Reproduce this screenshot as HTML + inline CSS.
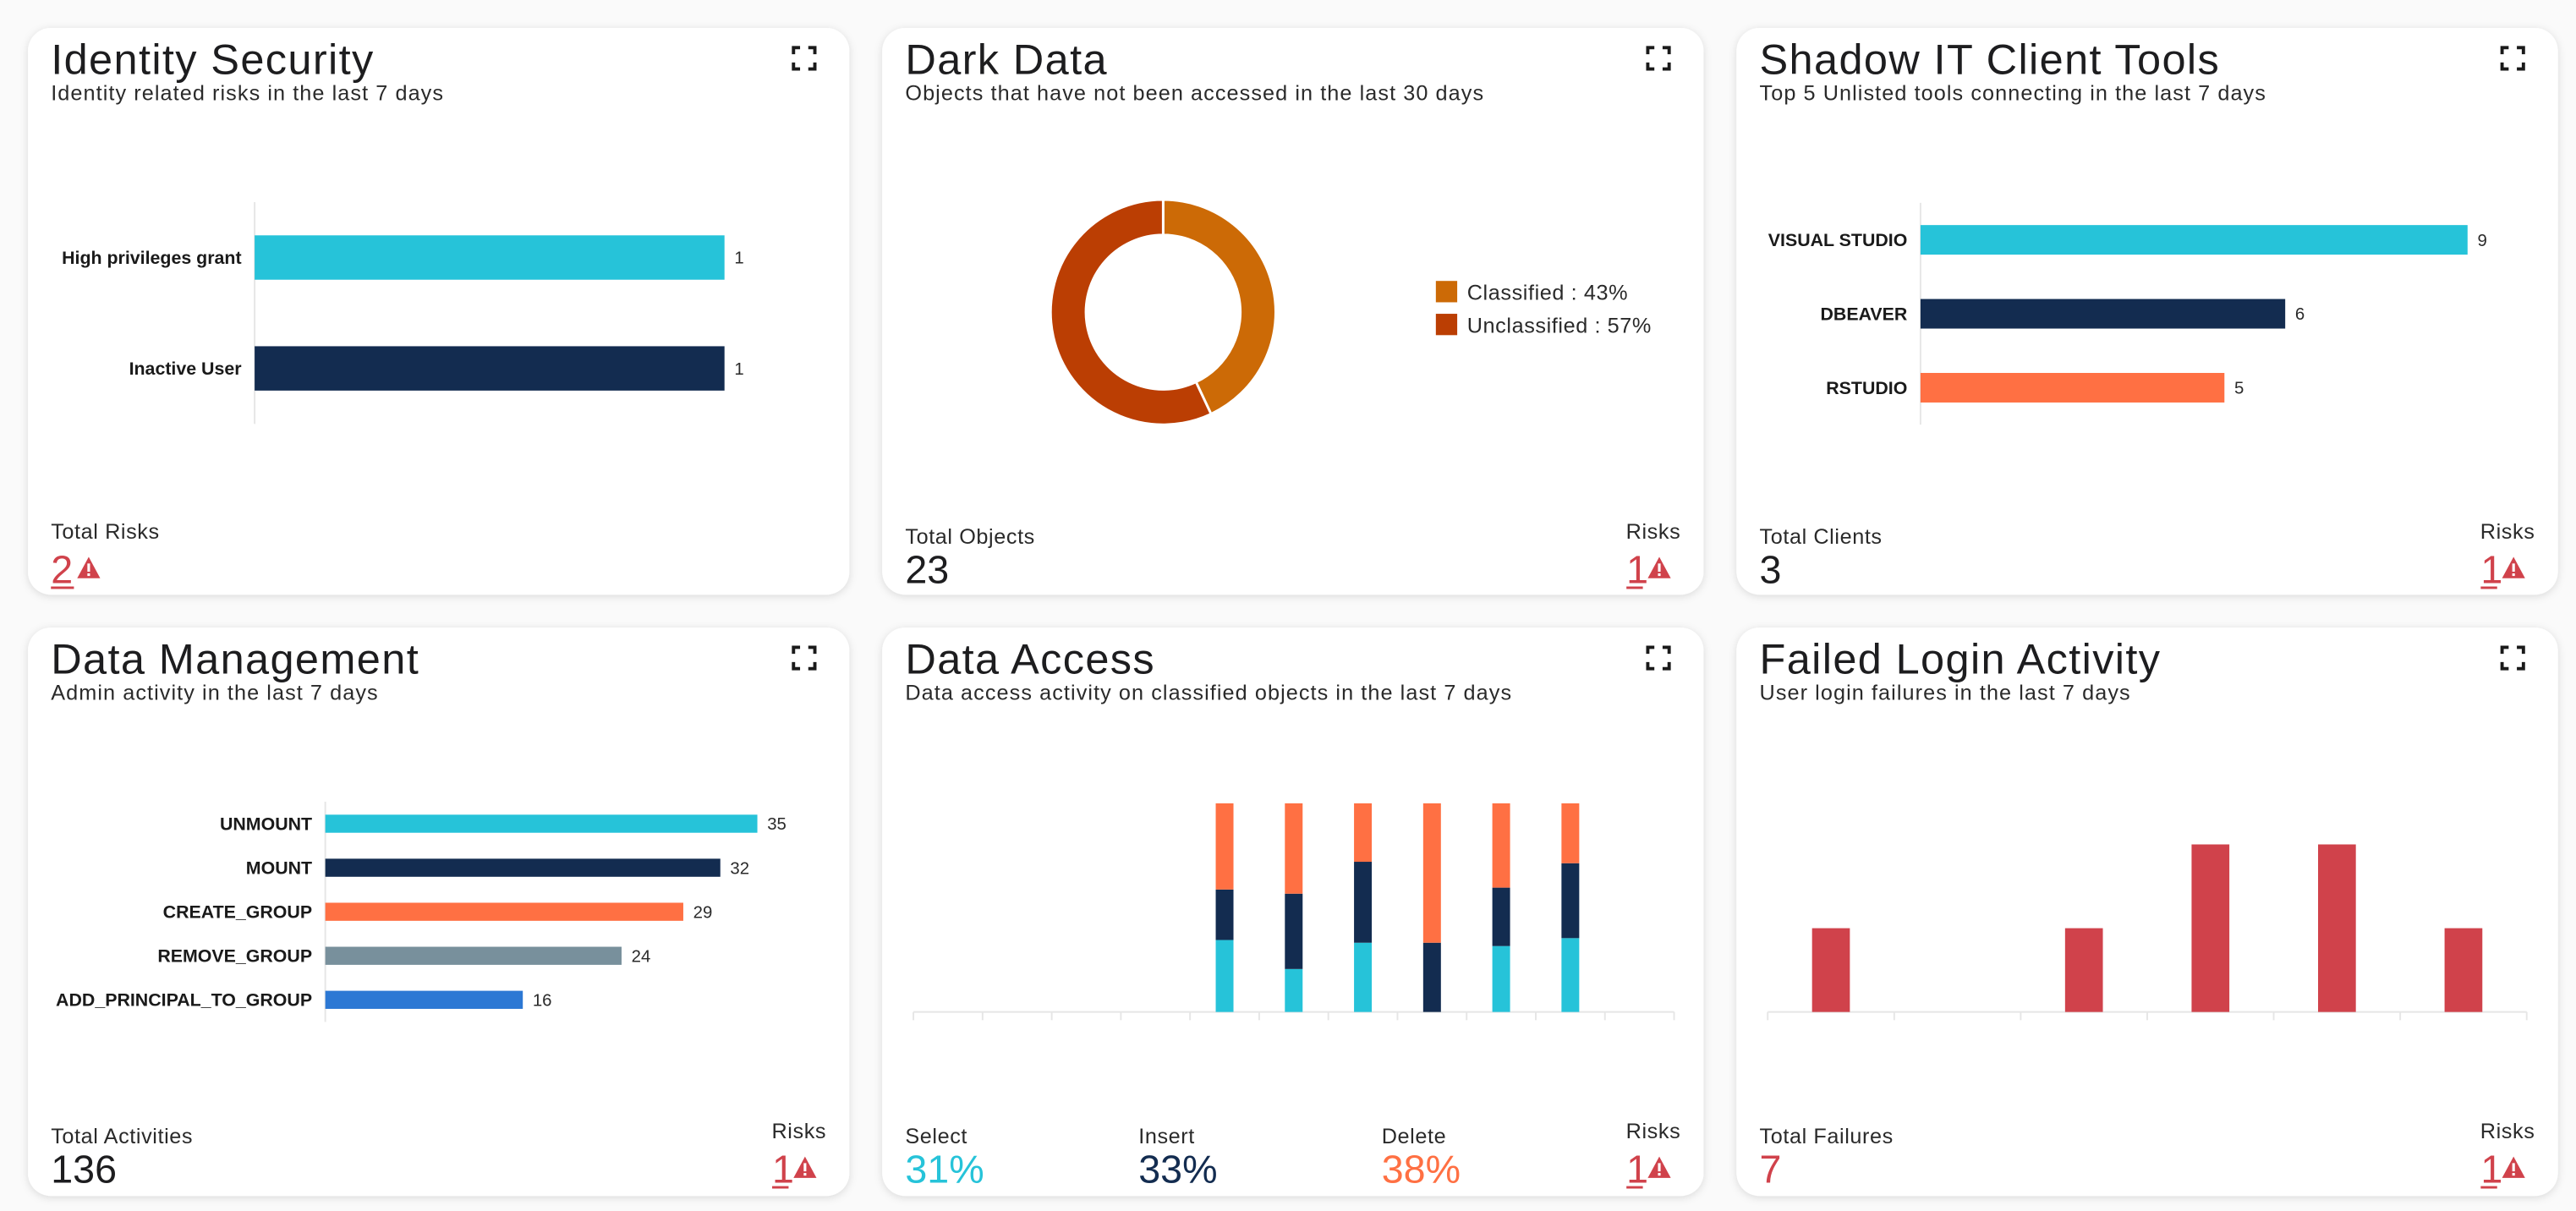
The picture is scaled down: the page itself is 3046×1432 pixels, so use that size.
<!DOCTYPE html>
<html><head><meta charset="utf-8">
<style>
html,body{margin:0;padding:0;background:#fafafa;width:3046px;height:1432px;overflow:hidden}
svg{display:block}
text{font-family:"Liberation Sans",sans-serif}
.t{font-size:26px;fill:#1d1d1f;letter-spacing:0.7px}
.s{font-size:13px;fill:#2a2a2a;letter-spacing:0.55px}
.f{font-size:13px;fill:#2a2a2a;letter-spacing:0.3px}
.n{font-size:24px;fill:#1d1d1f}
.lab{font-size:11px;font-weight:bold;fill:#1a1a1a}
.val{font-size:10.5px;fill:#2a2a2a}
</style></head>
<body>
<svg id="page" width="3046" height="1432" viewBox="0 0 1568 737.14" xmlns="http://www.w3.org/2000/svg">
<defs>
<filter id="sh" x="-5%" y="-5%" width="110%" height="110%"><feDropShadow dx="0" dy="1" stdDeviation="2.5" flood-color="#000" flood-opacity="0.13"/></filter>
<g id="exp"><path d="M0 4V0H4M9 0H13V4M13 9V13H9M4 13H0V9" fill="none" stroke="#1a1a1a" stroke-width="2"/></g>
<g id="warn"><path d="M7 0L14 13H0Z" fill="#d0424b"/><rect x="6.2" y="4" width="1.6" height="5" fill="#fff"/><rect x="6.2" y="10" width="1.6" height="1.6" fill="#fff"/></g>
</defs>
<rect width="1568" height="737.14" fill="#fafafa"/>

<rect x="17" y="17" width="500" height="345" rx="14" fill="#fff" filter="url(#sh)"/>
<rect x="537" y="17" width="500" height="345" rx="14" fill="#fff" filter="url(#sh)"/>
<rect x="1057" y="17" width="500" height="345" rx="14" fill="#fff" filter="url(#sh)"/>
<rect x="17" y="382" width="500" height="346" rx="14" fill="#fff" filter="url(#sh)"/>
<rect x="537" y="382" width="500" height="346" rx="14" fill="#fff" filter="url(#sh)"/>
<rect x="1057" y="382" width="500" height="346" rx="14" fill="#fff" filter="url(#sh)"/>

<text class="t" x="31" y="45">Identity Security</text>
<text class="s" x="31" y="61">Identity related risks in the last 7 days</text>
<text class="t" x="551" y="45">Dark Data</text>
<text class="s" x="551" y="61">Objects that have not been accessed in the last 30 days</text>
<text class="t" x="1071" y="45">Shadow IT Client Tools</text>
<text class="s" x="1071" y="61">Top 5 Unlisted tools connecting in the last 7 days</text>
<text class="t" x="31" y="410">Data Management</text>
<text class="s" x="31" y="426">Admin activity in the last 7 days</text>
<text class="t" x="551" y="410">Data Access</text>
<text class="s" x="551" y="426">Data access activity on classified objects in the last 7 days</text>
<text class="t" x="1071" y="410">Failed Login Activity</text>
<text class="s" x="1071" y="426">User login failures in the last 7 days</text>

<use href="#exp" x="483" y="29"/>
<use href="#exp" x="1003" y="29"/>
<use href="#exp" x="1523" y="29"/>
<use href="#exp" x="483" y="394"/>
<use href="#exp" x="1003" y="394"/>
<use href="#exp" x="1523" y="394"/>

<text class="f" x="31" y="328">Total Risks</text>
<text class="n" x="31" y="355" style="fill:#d0424b">2</text>
<rect x="31" y="357" width="14" height="1.5" fill="#d0424b"/>
<use href="#warn" x="47" y="339"/>

<text class="f" x="551" y="331">Total Objects</text>
<text class="n" x="551" y="355">23</text>
<text class="f" x="1023" y="328" text-anchor="end">Risks</text>
<text class="n" x="990" y="355" style="fill:#d0424b">1</text>
<rect x="990" y="357" width="10" height="1.5" fill="#d0424b"/>
<use href="#warn" x="1003" y="339"/>

<text class="f" x="1071" y="331">Total Clients</text>
<text class="n" x="1071" y="355">3</text>
<text class="f" x="1543" y="328" text-anchor="end">Risks</text>
<text class="n" x="1510" y="355" style="fill:#d0424b">1</text>
<rect x="1510" y="357" width="10" height="1.5" fill="#d0424b"/>
<use href="#warn" x="1523" y="339"/>

<text class="f" x="31" y="696">Total Activities</text>
<text class="n" x="31" y="720">136</text>
<text class="f" x="503" y="693" text-anchor="end">Risks</text>
<text class="n" x="470" y="720" style="fill:#d0424b">1</text>
<rect x="470" y="722" width="10" height="1.5" fill="#d0424b"/>
<use href="#warn" x="483" y="704"/>

<text class="f" x="551" y="696">Select</text>
<text class="n" x="551" y="720" style="fill:#26c3d9">31%</text>
<text class="f" x="693" y="696">Insert</text>
<text class="n" x="693" y="720" style="fill:#132c50">33%</text>
<text class="f" x="841" y="696">Delete</text>
<text class="n" x="841" y="720" style="fill:#ff7043">38%</text>
<text class="f" x="1023" y="693" text-anchor="end">Risks</text>
<text class="n" x="990" y="720" style="fill:#d0424b">1</text>
<rect x="990" y="722" width="10" height="1.5" fill="#d0424b"/>
<use href="#warn" x="1003" y="704"/>

<text class="f" x="1071" y="696">Total Failures</text>
<text class="n" x="1071" y="720" style="fill:#d0424b">7</text>
<text class="f" x="1543" y="693" text-anchor="end">Risks</text>
<text class="n" x="1510" y="720" style="fill:#d0424b">1</text>
<rect x="1510" y="722" width="10" height="1.5" fill="#d0424b"/>
<use href="#warn" x="1523" y="704"/>

<g id="charts"></g>
</svg>
<script>
// Identity Security
const idCategories = ["High privileges grant", "Inactive User"];
const idValues = [1, 1];
// Shadow IT
const shCategories = ["VISUAL STUDIO", "DBEAVER", "RSTUDIO"];
const shValues = [9, 6, 5];
// Data Management
const dmCategories = ["UNMOUNT", "MOUNT", "CREATE_GROUP", "REMOVE_GROUP", "ADD_PRINCIPAL_TO_GROUP"];
const dmValues = [35, 32, 29, 24, 16];
// Dark Data
const ddCategories = ["Classified", "Unclassified"];
const ddValues = [43, 57];
// Data Access (percent stacks per day)
const daDays = ["d1","d2","d3","d4","d5","d6","d7","d8","d9","d10","d11"];
const daSelect = [0,0,0,0,34.5,20.6,33.2,0,31.6,35.4,0];
const daInsert = [0,0,0,0,24.2,36.1,38.8,33.2,28,35.9,0];
const daDelete = [0,0,0,0,41.3,43.3,28,66.8,40.4,28.7,0];
// Failed logins
const flDays = ["d1","d2","d3","d4","d5","d6"];
const flValues = [1,0,1,2,2,1];

const NS = "http://www.w3.org/2000/svg";
const root = document.getElementById("charts");
function mk(tag, attrs, parent){const e=document.createElementNS(NS,tag);for(const k in attrs)e.setAttribute(k,attrs[k]);(parent||root).appendChild(e);return e;}

function hbar(cats, vals, colors, x0, width, y0, y1, bh, name){
  const max = Math.max(...vals);
  const xs = v => x0 + v / max * width;
  const band = (y1 - y0) / cats.length;
  const ax = mk("line",{x1:x0,x2:x0,y1:y0,y2:y1,stroke:"#e6e6e6","stroke-width":1});
  
  
  cats.forEach((c,i)=>{
    const cy = y0 + band*(i+0.5);
    const r = mk("rect",{x:x0,y:cy-bh/2,width:xs(vals[i])-x0,height:bh,fill:colors[i]});
    
    
    const l = mk("text",{x:x0-8,y:cy+3.8,"text-anchor":"end",class:"lab"}); l.textContent=c;
    
    
    const v = mk("text",{x:xs(vals[i])+6,y:cy+3.7,class:"val"}); v.textContent=vals[i];
    
    
  });
}
hbar(idCategories, idValues, ["#26c3d9","#132c50"], 155, 286, 123, 258, 27, "identity");
hbar(shCategories, shValues, ["#26c3d9","#132c50","#ff7043"], 1169, 333, 123.5, 258.5, 18, "shadow-it");
hbar(dmCategories, dmValues, ["#26c3d9","#132c50","#ff7043","#78909c","#2c78d4"], 198, 263, 488, 622, 11, "data-management");

(function(){
  const cx=708, cy=190, ro=68.5, ri=47, total=ddValues.reduce((a,b)=>a+b,0);
  const cols=["#cc6a06","#bb3e03"];
  let a0=0;
  ddValues.forEach((v,i)=>{
    const a1=a0+v/total*2*Math.PI;
    const p=(r,a)=>[cx+r*Math.sin(a), cy-r*Math.cos(a)];
    const large=(a1-a0)>Math.PI?1:0;
    const [x1,y1]=p(ro,a0),[x2,y2]=p(ro,a1),[x3,y3]=p(ri,a1),[x4,y4]=p(ri,a0);
    const s=mk("path",{d:`M${x1} ${y1}A${ro} ${ro} 0 ${large} 1 ${x2} ${y2}L${x3} ${y3}A${ri} ${ri} 0 ${large} 0 ${x4} ${y4}Z`,fill:cols[i],stroke:"#fff","stroke-width":1.5});
    
    
    a0=a1;
    const ly=171+i*20;
    const sq=mk("rect",{x:874,y:ly,width:13,height:13,fill:cols[i]});
    
    
    const t=mk("text",{x:893,y:ly+11.5,class:"f"}); t.textContent=ddCategories[i]+" : "+v+"%";
    
    
  });
})();

(function(){
  const x0=556, x1=1019, base=616, h=127;
  const bw=(x1-x0)/daDays.length;
  const ys=v=>v/100*h;
  const ax=mk("line",{x1:x0,x2:x1,y1:base,y2:base,stroke:"#e6e6e6"});
  
  
  for(let i=0;i<=daDays.length;i++){
    const tk=mk("line",{x1:x0+i*bw,x2:x0+i*bw,y1:base,y2:base+5,stroke:"#e6e6e6"});
    
    
  }
  const series=[[daSelect,"#26c3d9","select"],[daInsert,"#132c50","insert"],[daDelete,"#ff7043","delete"]];
  daDays.forEach((d,i)=>{
    let y=base; const cx=x0+bw*(i+0.5);
    series.forEach(([arr,col,nm])=>{
      const hh=ys(arr[i]); if(hh<=0)return;
      const r=mk("rect",{x:cx-5.4,y:y-hh,width:10.8,height:hh,fill:col});
      
      
      y-=hh;
    });
  });
})();

(function(){
  const x0=1076, x1=1538, base=616, unit=51;
  const bw=(x1-x0)/flDays.length;
  const ax=mk("line",{x1:x0,x2:x1,y1:base,y2:base,stroke:"#e6e6e6"});
  
  
  for(let i=0;i<=flDays.length;i++){
    const tk=mk("line",{x1:x0+i*bw,x2:x0+i*bw,y1:base,y2:base+5,stroke:"#e6e6e6"});
    
    
  }
  flDays.forEach((d,i)=>{
    const hh=flValues[i]*unit; if(hh<=0)return;
    const cx=x0+bw*(i+0.5);
    const r=mk("rect",{x:cx-11.5,y:base-hh,width:23,height:hh,fill:"#d0424b"});
    
    
  });
})();
</script>
</body></html>
